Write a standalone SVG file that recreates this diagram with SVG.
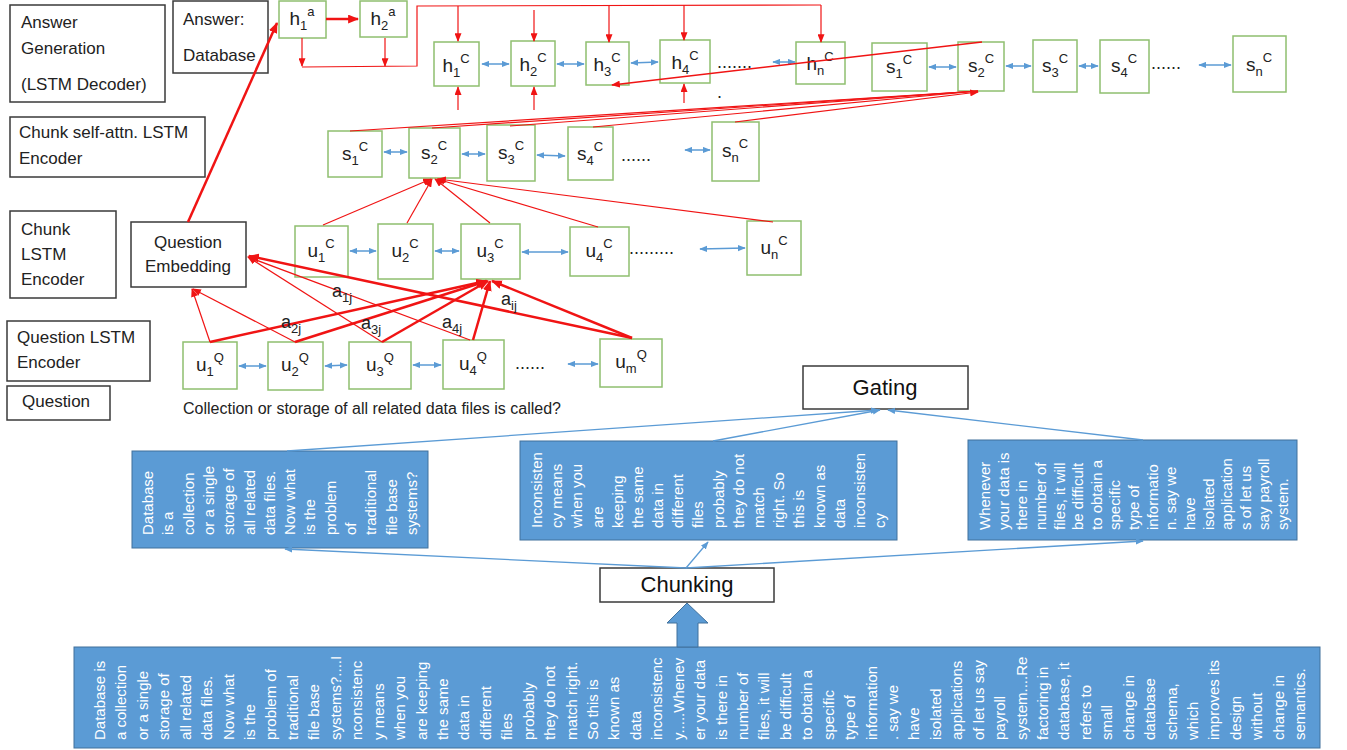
<svg xmlns="http://www.w3.org/2000/svg" width="1347" height="750" viewBox="0 0 1347 750">
<style>
text{font-family:"Liberation Sans",Arial,sans-serif}
.lb{fill:#fff;stroke:#3a3a3a;stroke-width:1.5}
.lt{font-size:17px;fill:#222}
.nd rect{fill:#fff;stroke:#8fbf6f;stroke-width:1.5}
.nl{font-size:19px;fill:#222;text-anchor:middle}
.sb,.sp{font-size:13px}
.dots{font-size:18px;fill:#222}
.rk{stroke:#f01414;stroke-width:2.5;fill:none;marker-end:url(#ar)}
.rt{stroke:#f01414;stroke-width:1.2;fill:none}
.rta{marker-end:url(#art)}
.bd{stroke:#5b9bd5;stroke-width:1.5;fill:none;marker-start:url(#ab);marker-end:url(#ab)}
.bl{stroke:#5b9bd5;stroke-width:1.3;fill:none;marker-end:url(#ab)}
.bb{fill:#5b9bd5;stroke:#41719c;stroke-width:1}
.bt{font-size:15px;fill:#fff}
.ttl{font-size:22px;fill:#111;text-anchor:middle}
.q{font-size:16px;fill:#222}
.al{font-size:18px;fill:#222}
.al tspan{font-size:13px}
</style>
<defs>
<marker id="ar" viewBox="0 0 10 8" refX="9" refY="4" markerWidth="11" markerHeight="9" markerUnits="userSpaceOnUse" orient="auto"><path d="M0,0 L10,4 L0,8 z" fill="#f01414"/></marker>
<marker id="art" viewBox="0 0 10 8" refX="9" refY="4" markerWidth="9" markerHeight="7" markerUnits="userSpaceOnUse" orient="auto"><path d="M0,0 L10,4 L0,8 z" fill="#f01414"/></marker>
<marker id="ab" viewBox="0 0 10 8" refX="9" refY="4" markerWidth="8" markerHeight="7" markerUnits="userSpaceOnUse" orient="auto-start-reverse"><path d="M0,0 L10,4 L0,8 z" fill="#5b9bd5"/></marker>
</defs>
<rect width="1347" height="750" fill="#fff"/>

<!-- Label boxes -->
<g id="lbl-answer-gen"><rect class="lb" x="10" y="5" width="155" height="97"/><text class="lt" x="21" y="28">Answer</text><text class="lt" x="21" y="54">Generation</text><text class="lt" x="21" y="90">(LSTM Decoder)</text></g>
<g id="lbl-answer"><rect class="lb" x="173" y="1" width="95" height="72"/><text class="lt" x="183" y="25">Answer:</text><text class="lt" x="183" y="61">Database</text></g>
<g id="lbl-chunk-self"><rect class="lb" x="10" y="117" width="195" height="60"/><text class="lt" x="19" y="138">Chunk self-attn. LSTM</text><text class="lt" x="19" y="164">Encoder</text></g>
<g id="lbl-chunk-lstm"><rect class="lb" x="10" y="211" width="106" height="87"/><text class="lt" x="21" y="235">Chunk</text><text class="lt" x="21" y="260">LSTM</text><text class="lt" x="21" y="285">Encoder</text></g>
<g id="lbl-q-lstm"><rect class="lb" x="7" y="321" width="143" height="60"/><text class="lt" x="17" y="343">Question LSTM</text><text class="lt" x="17" y="368">Encoder</text></g>
<g id="lbl-question"><rect class="lb" x="7" y="386" width="103" height="34"/><text class="lt" x="22" y="407">Question</text></g>
<g id="q-embed"><rect class="lb" x="131" y="222" width="115" height="65"/><text class="lt" x="188" y="248" text-anchor="middle">Question</text><text class="lt" x="188" y="272" text-anchor="middle">Embedding</text></g>

<!-- Decoder nodes -->
<g id="h1a" class="nd"><rect x="279" y="1" width="47" height="37"/><text class="nl" x="302" y="25">h<tspan class="sb" dy="5">1</tspan><tspan class="sp" dy="-14">a</tspan></text></g>
<g id="h2a" class="nd"><rect x="360" y="1" width="47" height="36"/><text class="nl" x="383" y="25">h<tspan class="sb" dy="5">2</tspan><tspan class="sp" dy="-14">a</tspan></text></g>

<g id="h1c" class="nd"><rect x="434" y="42" width="45" height="44"/><text class="nl" x="456" y="72">h<tspan class="sb" dy="5">1</tspan><tspan class="sp" dy="-14">C</tspan></text></g>
<g id="h2c" class="nd"><rect x="511" y="41" width="44" height="45"/><text class="nl" x="533" y="71">h<tspan class="sb" dy="5">2</tspan><tspan class="sp" dy="-14">C</tspan></text></g>
<g id="h3c" class="nd"><rect x="586" y="42" width="43" height="43"/><text class="nl" x="607" y="71">h<tspan class="sb" dy="5">3</tspan><tspan class="sp" dy="-14">C</tspan></text></g>
<g id="h4c" class="nd"><rect x="660" y="40" width="50" height="43"/><text class="nl" x="685" y="69">h<tspan class="sb" dy="5">4</tspan><tspan class="sp" dy="-14">C</tspan></text></g>
<g id="hnc" class="nd"><rect x="796" y="42" width="49" height="42"/><text class="nl" x="820" y="70">h<tspan class="sb" dy="5">n</tspan><tspan class="sp" dy="-14">C</tspan></text></g>

<g id="s1t" class="nd"><rect x="872" y="43" width="55" height="48"/><text class="nl" x="899" y="73">s<tspan class="sb" dy="5">1</tspan><tspan class="sp" dy="-14">C</tspan></text></g>
<g id="s2t" class="nd"><rect x="958" y="42" width="46" height="49"/><text class="nl" x="981" y="72">s<tspan class="sb" dy="5">2</tspan><tspan class="sp" dy="-14">C</tspan></text></g>
<g id="s3t" class="nd"><rect x="1033" y="40" width="44" height="52"/><text class="nl" x="1055" y="72">s<tspan class="sb" dy="5">3</tspan><tspan class="sp" dy="-14">C</tspan></text></g>
<g id="s4t" class="nd"><rect x="1100" y="40" width="49" height="53"/><text class="nl" x="1124" y="72">s<tspan class="sb" dy="5">4</tspan><tspan class="sp" dy="-14">C</tspan></text></g>
<g id="snt" class="nd"><rect x="1233" y="36" width="53" height="56"/><text class="nl" x="1259" y="71">s<tspan class="sb" dy="5">n</tspan><tspan class="sp" dy="-14">C</tspan></text></g>

<g id="s1m" class="nd"><rect x="328" y="131" width="54" height="46"/><text class="nl" x="355" y="160">s<tspan class="sb" dy="5">1</tspan><tspan class="sp" dy="-14">C</tspan></text></g>
<g id="s2m" class="nd"><rect x="409" y="128" width="51" height="50"/><text class="nl" x="434" y="159">s<tspan class="sb" dy="5">2</tspan><tspan class="sp" dy="-14">C</tspan></text></g>
<g id="s3m" class="nd"><rect x="487" y="125" width="48" height="56"/><text class="nl" x="511" y="159">s<tspan class="sb" dy="5">3</tspan><tspan class="sp" dy="-14">C</tspan></text></g>
<g id="s4m" class="nd"><rect x="568" y="127" width="45" height="53"/><text class="nl" x="590" y="160">s<tspan class="sb" dy="5">4</tspan><tspan class="sp" dy="-14">C</tspan></text></g>
<g id="snm" class="nd"><rect x="712" y="122" width="47" height="59"/><text class="nl" x="735" y="157">s<tspan class="sb" dy="5">n</tspan><tspan class="sp" dy="-14">C</tspan></text></g>

<g id="u1c" class="nd"><rect x="295" y="226" width="53" height="51"/><text class="nl" x="321" y="257">u<tspan class="sb" dy="5">1</tspan><tspan class="sp" dy="-14">C</tspan></text></g>
<g id="u2c" class="nd"><rect x="378" y="224" width="55" height="55"/><text class="nl" x="405" y="257">u<tspan class="sb" dy="5">2</tspan><tspan class="sp" dy="-14">C</tspan></text></g>
<g id="u3c" class="nd"><rect x="461" y="224" width="59" height="55"/><text class="nl" x="490" y="257">u<tspan class="sb" dy="5">3</tspan><tspan class="sp" dy="-14">C</tspan></text></g>
<g id="u4c" class="nd"><rect x="570" y="227" width="59" height="49"/><text class="nl" x="599" y="257">u<tspan class="sb" dy="5">4</tspan><tspan class="sp" dy="-14">C</tspan></text></g>
<g id="unc" class="nd"><rect x="747" y="221" width="54" height="54"/><text class="nl" x="774" y="254">u<tspan class="sb" dy="5">n</tspan><tspan class="sp" dy="-14">C</tspan></text></g>

<g id="u1q" class="nd"><rect x="183" y="342" width="54" height="47"/><text class="nl" x="210" y="371">u<tspan class="sb" dy="5">1</tspan><tspan class="sp" dy="-14">Q</tspan></text></g>
<g id="u2q" class="nd"><rect x="268" y="342" width="55" height="48"/><text class="nl" x="295" y="371">u<tspan class="sb" dy="5">2</tspan><tspan class="sp" dy="-14">Q</tspan></text></g>
<g id="u3q" class="nd"><rect x="349" y="342" width="62" height="47"/><text class="nl" x="380" y="371">u<tspan class="sb" dy="5">3</tspan><tspan class="sp" dy="-14">Q</tspan></text></g>
<g id="u4q" class="nd"><rect x="443" y="340" width="61" height="49"/><text class="nl" x="473" y="370">u<tspan class="sb" dy="5">4</tspan><tspan class="sp" dy="-14">Q</tspan></text></g>
<g id="umq" class="nd"><rect x="600" y="339" width="62" height="48"/><text class="nl" x="631" y="368">u<tspan class="sb" dy="5">m</tspan><tspan class="sp" dy="-14">Q</tspan></text></g>

<!-- dots -->
<g id="ellipses">
<text class="dots" x="717" y="68">.......</text>
<text class="dots" x="717" y="98">.</text>
<text class="dots" x="1151" y="69">......</text>
<text class="dots" x="621" y="161">......</text>
<text class="dots" x="629" y="254">.........</text>
<text class="dots" x="515" y="369">......</text>
</g>

<!-- Gating / Chunking -->
<g id="gating"><rect class="lb" x="803" y="366" width="165" height="43"/><text class="ttl" x="885" y="395">Gating</text></g>
<g id="chunking"><rect class="lb" x="600" y="568" width="174" height="34"/><text class="ttl" x="687" y="592">Chunking</text></g>
<text class="q" x="183" y="414">Collection or storage of all related data files is called?</text>

<!-- Chunk boxes -->
<g id="chunk1"><rect class="bb" x="132" y="451" width="296" height="97"/>
<g class="bt">
<text transform="translate(153,535) rotate(-90)">Database</text>
<text transform="translate(173,535) rotate(-90)">is a</text>
<text transform="translate(194,535) rotate(-90)">collection</text>
<text transform="translate(214,535) rotate(-90)">or a single</text>
<text transform="translate(234,535) rotate(-90)">storage of</text>
<text transform="translate(255,535) rotate(-90)">all related</text>
<text transform="translate(275,535) rotate(-90)">data files.</text>
<text transform="translate(295,535) rotate(-90)">Now what</text>
<text transform="translate(315,535) rotate(-90)">is the</text>
<text transform="translate(336,535) rotate(-90)">problem</text>
<text transform="translate(356,535) rotate(-90)">of</text>
<text transform="translate(376,535) rotate(-90)">traditional</text>
<text transform="translate(397,535) rotate(-90)">file base</text>
<text transform="translate(417,535) rotate(-90)">systems?</text>
</g></g>
<g id="chunk2"><rect class="bb" x="520" y="441" width="377" height="99"/>
<g class="bt">
<text transform="translate(542,528) rotate(-90)">Inconsisten</text>
<text transform="translate(562,528) rotate(-90)">cy means</text>
<text transform="translate(582,528) rotate(-90)">when you</text>
<text transform="translate(603,528) rotate(-90)">are</text>
<text transform="translate(623,528) rotate(-90)">keeping</text>
<text transform="translate(643,528) rotate(-90)">the same</text>
<text transform="translate(663,528) rotate(-90)">data in</text>
<text transform="translate(683,528) rotate(-90)">different</text>
<text transform="translate(703,528) rotate(-90)">files</text>
<text transform="translate(724,528) rotate(-90)">probably</text>
<text transform="translate(744,528) rotate(-90)">they do not</text>
<text transform="translate(764,528) rotate(-90)">match</text>
<text transform="translate(784,528) rotate(-90)">right. So</text>
<text transform="translate(804,528) rotate(-90)">this is</text>
<text transform="translate(825,528) rotate(-90)">known as</text>
<text transform="translate(845,528) rotate(-90)">data</text>
<text transform="translate(865,528) rotate(-90)">inconsisten</text>
<text transform="translate(885,528) rotate(-90)">cy</text>
</g></g>
<g id="chunk3"><rect class="bb" x="968" y="440" width="329" height="100"/>
<g class="bt">
<text transform="translate(990,530) rotate(-90)">Whenever</text>
<text transform="translate(1009,530) rotate(-90)">your data is</text>
<text transform="translate(1027,530) rotate(-90)">there in</text>
<text transform="translate(1046,530) rotate(-90)">number of</text>
<text transform="translate(1065,530) rotate(-90)">files, it will</text>
<text transform="translate(1083,530) rotate(-90)">be difficult</text>
<text transform="translate(1102,530) rotate(-90)">to obtain a</text>
<text transform="translate(1120,530) rotate(-90)">specific</text>
<text transform="translate(1139,530) rotate(-90)">type of</text>
<text transform="translate(1158,530) rotate(-90)">informatio</text>
<text transform="translate(1176,530) rotate(-90)">n. say we</text>
<text transform="translate(1195,530) rotate(-90)">have</text>
<text transform="translate(1214,530) rotate(-90)">isolated</text>
<text transform="translate(1232,530) rotate(-90)">application</text>
<text transform="translate(1251,530) rotate(-90)">s of let us</text>
<text transform="translate(1269,530) rotate(-90)">say payroll</text>
<text transform="translate(1288,530) rotate(-90)">system.</text>
</g></g>

<!-- Document box -->
<g id="document"><rect class="bb" x="74" y="647" width="1246" height="101"/>
<g class="bt">
<text transform="translate(105,740) rotate(-90)">Database is</text>
<text transform="translate(126.4,740) rotate(-90)">a collection</text>
<text transform="translate(147.9,740) rotate(-90)">or a single</text>
<text transform="translate(169.3,740) rotate(-90)">storage of</text>
<text transform="translate(190.7,740) rotate(-90)">all related</text>
<text transform="translate(212.2,740) rotate(-90)">data files.</text>
<text transform="translate(233.6,740) rotate(-90)">Now what</text>
<text transform="translate(255,740) rotate(-90)">is the</text>
<text transform="translate(276.4,740) rotate(-90)">problem of</text>
<text transform="translate(297.9,740) rotate(-90)">traditional</text>
<text transform="translate(319.3,740) rotate(-90)">file base</text>
<text transform="translate(340.7,740) rotate(-90)">systems?....I</text>
<text transform="translate(362.2,740) rotate(-90)">nconsistenc</text>
<text transform="translate(383.6,740) rotate(-90)">y means</text>
<text transform="translate(405,740) rotate(-90)">when you</text>
<text transform="translate(426.5,740) rotate(-90)">are keeping</text>
<text transform="translate(447.9,740) rotate(-90)">the same</text>
<text transform="translate(469.3,740) rotate(-90)">data in</text>
<text transform="translate(490.7,740) rotate(-90)">different</text>
<text transform="translate(512.2,740) rotate(-90)">files</text>
<text transform="translate(533.6,740) rotate(-90)">probably</text>
<text transform="translate(555,740) rotate(-90)">they do not</text>
<text transform="translate(576.5,740) rotate(-90)">match right.</text>
<text transform="translate(597.9,740) rotate(-90)">So this is</text>
<text transform="translate(619.3,740) rotate(-90)">known as</text>
<text transform="translate(640.8,740) rotate(-90)">data</text>
<text transform="translate(662.2,740) rotate(-90)">inconsistenc</text>
<text transform="translate(683.6,740) rotate(-90)">y.....Whenev</text>
<text transform="translate(705,740) rotate(-90)">er your data</text>
<text transform="translate(726.5,740) rotate(-90)">is there in</text>
<text transform="translate(747.9,740) rotate(-90)">number of</text>
<text transform="translate(769.3,740) rotate(-90)">files, it will</text>
<text transform="translate(790.8,740) rotate(-90)">be difficult</text>
<text transform="translate(812.2,740) rotate(-90)">to obtain a</text>
<text transform="translate(833.6,740) rotate(-90)">specific</text>
<text transform="translate(855.1,740) rotate(-90)">type of</text>
<text transform="translate(876.5,740) rotate(-90)">information</text>
<text transform="translate(897.9,740) rotate(-90)">. say we</text>
<text transform="translate(919.3,740) rotate(-90)">have</text>
<text transform="translate(940.8,740) rotate(-90)">isolated</text>
<text transform="translate(962.2,740) rotate(-90)">applications</text>
<text transform="translate(983.6,740) rotate(-90)">of let us say</text>
<text transform="translate(1005.1,740) rotate(-90)">payroll</text>
<text transform="translate(1026.5,740) rotate(-90)">system....Re</text>
<text transform="translate(1047.9,740) rotate(-90)">factoring in</text>
<text transform="translate(1069.4,740) rotate(-90)">database, it</text>
<text transform="translate(1090.8,740) rotate(-90)">refers to</text>
<text transform="translate(1112.2,740) rotate(-90)">small</text>
<text transform="translate(1133.6,740) rotate(-90)">change in</text>
<text transform="translate(1155.1,740) rotate(-90)">database</text>
<text transform="translate(1176.5,740) rotate(-90)">schema,</text>
<text transform="translate(1197.9,740) rotate(-90)">which</text>
<text transform="translate(1219.4,740) rotate(-90)">improves its</text>
<text transform="translate(1240.8,740) rotate(-90)">design</text>
<text transform="translate(1262.2,740) rotate(-90)">without</text>
<text transform="translate(1283.7,740) rotate(-90)">change in</text>
<text transform="translate(1305.1,740) rotate(-90)">semantics.</text>
</g></g>

<!-- Block arrow -->
<path id="block-arrow" class="bb" d="M677,647 L677,623 L667,623 L687,603 L708,623 L698,623 L698,647 Z"/>

<!-- Connectors -->
<g id="connectors">
<line class="bd" x1="482" y1="64" x2="509" y2="64"/>
<line class="bd" x1="557" y1="64" x2="584" y2="64"/>
<line class="bd" x1="631" y1="63" x2="658" y2="62"/>
<line class="bd" x1="773" y1="62" x2="795" y2="62"/>
<line class="bd" x1="929" y1="67" x2="956" y2="67"/>
<line class="bd" x1="1006" y1="66" x2="1031" y2="66"/>
<line class="bd" x1="1079" y1="66" x2="1098" y2="66"/>
<line class="bd" x1="1199" y1="65" x2="1231" y2="65"/>
<line class="bd" x1="384" y1="152" x2="407" y2="152"/>
<line class="bd" x1="462" y1="154" x2="485" y2="154"/>
<line class="bd" x1="537" y1="155" x2="565" y2="156"/>
<line class="bd" x1="685" y1="150" x2="710" y2="150"/>
<line class="bd" x1="350" y1="251" x2="376" y2="251"/>
<line class="bd" x1="435" y1="251" x2="459" y2="251"/>
<line class="bd" x1="522" y1="252" x2="568" y2="252"/>
<line class="bd" x1="700" y1="249" x2="745" y2="248"/>
<line class="bd" x1="239" y1="366" x2="266" y2="366"/>
<line class="bd" x1="325" y1="366" x2="347" y2="365"/>
<line class="bd" x1="413" y1="365" x2="441" y2="365"/>
<line class="bd" x1="568" y1="364" x2="598" y2="364"/>

<line class="rk" x1="188" y1="222" x2="277" y2="23"/>
<line class="rk" x1="326" y1="19" x2="358" y2="19"/>
<line class="rt rta" x1="302" y1="38" x2="302" y2="66"/>
<line class="rt rta" x1="385" y1="38" x2="385" y2="66"/>
<polyline class="rt" points="302,67 417,66 417,6 821,5"/>
<line class="rt rta" x1="458" y1="6" x2="458" y2="41"/>
<line class="rt rta" x1="534" y1="10" x2="534" y2="41"/>
<line class="rt rta" x1="609" y1="5" x2="609" y2="42"/>
<line class="rt rta" x1="684" y1="5" x2="684" y2="40"/>
<line class="rt rta" x1="821" y1="5" x2="821" y2="42"/>
<line class="rt rta" x1="458" y1="110" x2="458" y2="87"/>
<line class="rt rta" x1="534" y1="110" x2="534" y2="87"/>
<line class="rt rta" x1="684" y1="103" x2="684" y2="84"/>
<line class="rt rta" x1="982" y1="42" x2="612" y2="85" style="stroke-width:1.5"/>

<line class="rt" x1="350" y1="131" x2="978" y2="91"/>
<line class="rt" x1="432" y1="128" x2="978" y2="91"/>
<line class="rt" x1="510" y1="126" x2="978" y2="91"/>
<line class="rt" x1="593" y1="127" x2="978" y2="91"/>
<line class="rt rta" x1="735" y1="122" x2="978" y2="92"/>

<line class="rt rta" x1="323" y1="225" x2="431" y2="179"/>
<line class="rt rta" x1="407" y1="223" x2="432" y2="179"/>
<line class="rt rta" x1="490" y1="223" x2="435" y2="179"/>
<line class="rt rta" x1="598" y1="227" x2="437" y2="179"/>
<line class="rt rta" x1="773" y1="222" x2="438" y2="179"/>

<line class="rt rta" x1="210" y1="342" x2="192" y2="289"/>
<line class="rt rta" x1="295" y1="342" x2="193" y2="289"/>
<line class="rt rta" x1="382" y1="342" x2="248" y2="257"/>
<line class="rt rta" x1="470" y1="340" x2="248" y2="257"/>
<line class="rk" x1="632" y1="338" x2="249" y2="256"/>

<line class="rk" x1="210" y1="342" x2="486" y2="281"/>
<line class="rk" x1="295" y1="342" x2="487" y2="281"/>
<line class="rk" x1="382" y1="342" x2="488" y2="281"/>
<line class="rk" x1="473" y1="340" x2="490" y2="281"/>
<line class="rk" x1="632" y1="338" x2="492" y2="281"/>

<line class="bl" x1="287" y1="451" x2="878" y2="410"/>
<line class="bl" x1="713" y1="441" x2="880" y2="410"/>
<line class="bl" x1="1143" y1="440" x2="888" y2="410"/>
<line class="bl" x1="686" y1="568" x2="285" y2="549"/>
<line class="bl" x1="686" y1="568" x2="708" y2="542"/>
<line class="bl" x1="686" y1="568" x2="1143" y2="541"/>
</g>

<g id="attn-labels">
<text class="al" x="332" y="297">a<tspan dy="5">1j</tspan></text>
<text class="al" x="281" y="328">a<tspan dy="5">2j</tspan></text>
<text class="al" x="361" y="329">a<tspan dy="5">3j</tspan></text>
<text class="al" x="442" y="328">a<tspan dy="5">4j</tspan></text>
<text class="al" x="501" y="305">a<tspan dy="5">ij</tspan></text>
</g>
</svg>
